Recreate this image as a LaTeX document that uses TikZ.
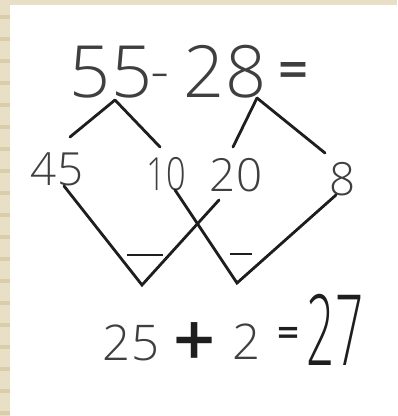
\documentclass[tikz,border=0pt]{standalone}
\usepackage{fontspec}
\setmainfont{Open Sans Light}
\usepackage{tikz}
\usetikzlibrary{positioning,calc}
\definecolor{paper}{HTML}{E9DEC6}
\definecolor{paperline}{HTML}{DCCDAA}
\definecolor{pencil}{HTML}{3F3F3F}
\definecolor{ink}{HTML}{1E1E1E}
\tikzset{
  num/.style={text=pencil, inner sep=0pt, anchor=base, font=\fontsize{#1}{#1}\selectfont},
  num/.default=26,
  stroke/.style={draw=ink, line width=1.6pt, line cap=round},
  bar/.style={draw=ink, line width=1.6pt},
}

\begin{document}
\begin{tikzpicture}[x=0.02cm, y=-0.02cm]
\useasboundingbox (0,0) rectangle (397,416);
% ruled paper edge
\fill[white] (0,0) rectangle (397,416);
\fill[paper] (0,0) rectangle (397,5);
\fill[paper] (0,0) rectangle (10,416);
\foreach \k in {0,...,18}{
  \fill[paperline] (0,15+22*\k) rectangle (10,19+22*\k);}

% the sum
\node[num=41] (n55) at (111,97) {55};
\node[num=34] (dash) at (160,91) {-};
\node[num=41] (n28) at (225,97) {28};
\node[num=30, font=\fontsize{30}{30}\selectfont\bfseries] (eqtop) at (294,88) {=};

% splits
\coordinate (t55) at (115,100);
\coordinate (t28) at (257,98);
\node[num=26] (n45) at (57,185) {45};
\node[num=26, xscale=0.75] (n10) at (166,190) {10};
\node[num=26] (n20) at (236,191) {20};
\node[num=26] (n8) at (343,195) {8};
\draw[stroke] (t55) -- (70,137) coordinate (e45);
\draw[stroke] (t55) -- (160,147) coordinate (e10);
\draw[stroke] (t28) -- (233,147) coordinate (e20);
\draw[stroke] (t28) -- (325,153) coordinate (e8);

% subtracting
\coordinate (vl) at (142,285);
\coordinate (vr) at (237,283);
\draw[stroke] (64,186) coordinate (s45) -- (vl) -- (219,200) coordinate (s20);
\draw[stroke] (175,190) coordinate (s10) -- (vr) -- (336,195) coordinate (s8);
\draw[bar] (127,255) -- (163,255);
\draw[bar] (230,254) -- (252,254);

% result
\node[num=28] (n25) at (131,360) {25};
\node[num=42, text=ink, font=\fontsize{42}{42}\selectfont\bfseries] (plus) at (195,366) {+};
\node[num=28] (n2) at (247,359) {2};
\node[num=22, text=ink, font=\fontsize{22}{22}\selectfont\bfseries] (eqbot) at (289,346) {=};
\node[num=56, xscale=0.5, text=ink] (n27) at (335,365) {27};
\end{tikzpicture}
\end{document}
